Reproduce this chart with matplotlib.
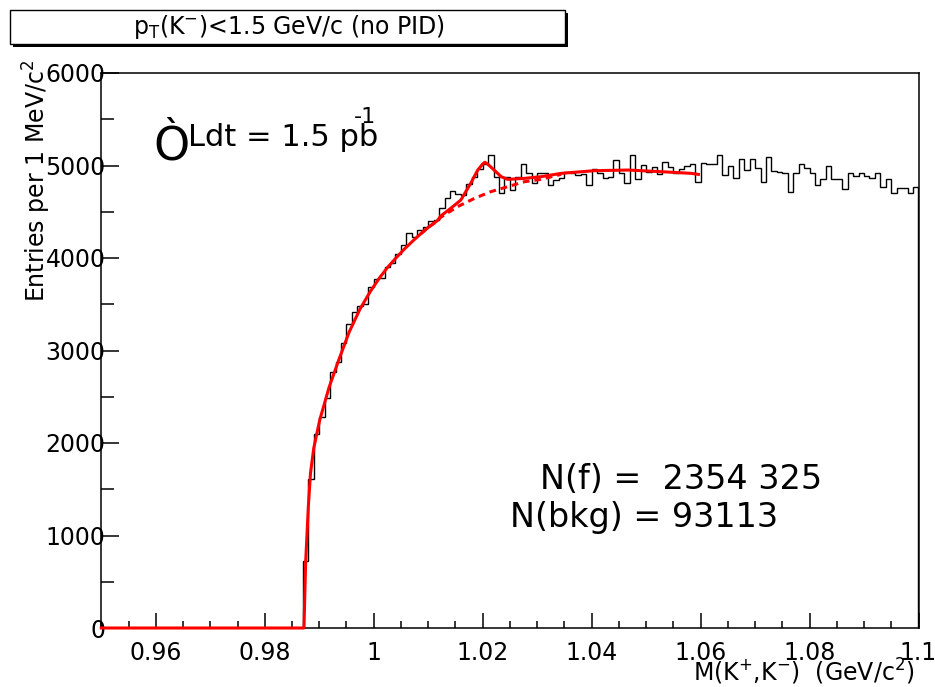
import matplotlib
matplotlib.use('Agg')
import matplotlib.pyplot as plt
import numpy as np
from matplotlib.patches import Rectangle
from matplotlib.ticker import FixedLocator, FuncFormatter

plt.rcParams['font.family'] = ['DejaVu Sans']
plt.rcParams['mathtext.default'] = 'regular'

# histogram: 1 MeV bins from 0.95 to 1.10 GeV/c^2
bin_lo = 0.95
bin_width = 0.001
counts = [0] * 37 + [
    724, 1610, 2097, 2281, 2490, 2770, 2872, 3081, 3286, 3420,
    3481, 3500, 3690, 3773, 3780, 3902, 3946, 4043, 4140, 4270,
    4230, 4302, 4338, 4403, 4410, 4544, 4645, 4727, 4688, 4680,
    4800, 4879, 4958, 5016, 5117, 4880, 4706, 4880, 4735, 4880,
    5016, 4915, 4807, 4915, 4915, 4789, 4843, 4870, 4933, 4920,
    4900, 4904, 4789, 4962, 4920, 4868, 4880, 5059, 4920, 4814,
    5113, 4850, 5005, 4930, 4987, 4904, 5041, 4987, 4920, 4960,
    4994, 5016, 4825, 5030, 5016, 5016, 5113, 4897, 4994, 4861,
    5070, 4951, 5070, 4969, 4825, 5088, 4944, 4933, 4915, 4717,
    4915, 5016, 4969, 4915, 4789, 4850, 4994, 4850, 4850, 4742,
    4915, 4886, 4915, 4886, 4861, 4922, 4771, 4850, 4699, 4753,
    4753, 4699, 4771,
]

# total fit (signal + background)
fit_mass = [0.950, 0.9872, 0.9875, 0.9880, 0.9884, 0.9890, 0.9901, 0.9918,
            0.9936, 0.9955, 0.9975, 0.9994, 1.0010, 1.0025, 1.0040, 1.0056,
            1.0071, 1.0086, 1.0101, 1.0117, 1.0123, 1.0142, 1.0160, 1.0178,
            1.0191, 1.0200, 1.0204, 1.0209, 1.0221, 1.0234, 1.0246, 1.0277,
            1.0307, 1.0344, 1.0405, 1.0467, 1.0528, 1.0583, 1.0596]
fit_vals = [0, 0, 700, 1310, 1675, 1945, 2250, 2600,
            2900, 3200, 3450, 3640, 3780, 3895, 3995, 4095,
            4180, 4260, 4335, 4405, 4454, 4540, 4627, 4807,
            4951, 5016, 5035, 5016, 4951, 4879, 4850, 4861,
            4879, 4915, 4944, 4951, 4933, 4915, 4904]

# background part of the fit (visible section)
bkg_mass = [1.0086, 1.0101, 1.0117, 1.0123, 1.0154, 1.0185, 1.0215, 1.0246,
            1.0277, 1.0307, 1.0344]
bkg_vals = [4260, 4335, 4400, 4440, 4555, 4645, 4717, 4771, 4825, 4850, 4905]

x_ticks = [0.96, 0.98, 1.0, 1.02, 1.04, 1.06, 1.08, 1.1]
y_ticks = [0, 1000, 2000, 3000, 4000, 5000, 6000]

W, H = 935, 687
fig = plt.figure(figsize=(W / 100, H / 100), dpi=100)
ax = fig.add_axes([101.3 / W, 1 - 628 / H, (918.5 - 101.3) / W, (628 - 73) / H])

edges = bin_lo + bin_width * np.arange(len(counts) + 1)
ax.stairs(counts, edges, color='black', lw=1.0)
ax.plot(bkg_mass, bkg_vals, color='red', lw=2.2, ls=(0, (2.2, 1.6)))
ax.plot(fit_mass, fit_vals, color='red', lw=2.2, clip_on=False, zorder=3)

ax.set_xlim(0.95, 1.1)
ax.set_ylim(0, 6000)
ax.xaxis.set_major_locator(FixedLocator(x_ticks))
ax.xaxis.set_minor_locator(FixedLocator(np.arange(0.95, 1.1001, 0.005)))
ax.yaxis.set_major_locator(FixedLocator(y_ticks))
ax.yaxis.set_minor_locator(FixedLocator(np.arange(0, 6001, 500)))
ax.xaxis.set_major_formatter(FuncFormatter(lambda v, p: '%g' % round(v, 3)))
ax.yaxis.set_major_formatter(FuncFormatter(lambda v, p: '%d' % v))

ax.tick_params(which='both', direction='in', top=False, right=False, width=1.1, labelsize=17)
ax.tick_params(axis='x', which='major', length=10.8, pad=9)
ax.tick_params(axis='x', which='minor', length=5.4)
ax.tick_params(axis='y', which='major', length=13, pad=-3)
ax.tick_params(axis='y', which='minor', length=9)
for s in ax.spines.values():
    s.set_linewidth(1.1)

# title box with shadow
fig.patches.append(Rectangle((13 / W, 1 - 47 / H), 555 / W, 34 / H, transform=fig.transFigure,
                             facecolor='black', edgecolor='black', lw=0))
fig.patches.append(Rectangle((10 / W, 1 - 44 / H), 555 / W, 34 / H, transform=fig.transFigure,
                             facecolor='white', edgecolor='black', lw=1))
fig.text(289 / W, 1 - 27 / H, r'p$_{T}$(K$^{-}$)<1.5 GeV/c (no PID)', ha='center', va='center', fontsize=17)

fig.text(153 / W, 1 - 160 / H, 'Ò', fontsize=33, va='baseline')
fig.text(188 / W, 1 - 146 / H, 'Ldt = 1.5 pb', fontsize=22, va='baseline')
fig.text(354 / W, 1 - 123 / H, '-1', fontsize=16, va='baseline')

fig.text(540 / W, 1 - 489 / H, 'N(f) =  2354 325', fontsize=24, va='baseline')
fig.text(510 / W, 1 - 527 / H, 'N(bkg) = 93113', fontsize=24, va='baseline')

fig.text(915 / W, 1 - 681 / H, r'M(K$^{+}$,K$^{-}$)  (GeV/c$^{2}$)', ha='right', va='baseline', fontsize=17)
fig.text(37 / W, 1 - 60 / H, r'Entries per 1 MeV/c$^{2}$', rotation=90, ha='center', va='top', fontsize=17)

fig.savefig('out.png', dpi=100)
